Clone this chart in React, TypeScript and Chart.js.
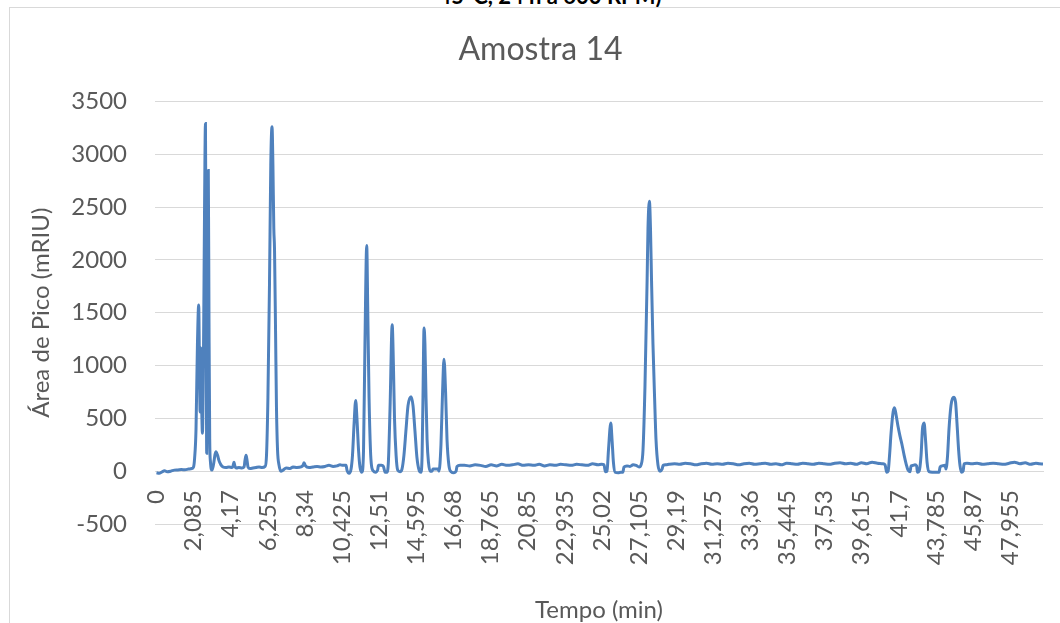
import React, { useEffect, useRef } from "react";
import { Chart, registerables } from "chart.js";

Chart.register(...registerables);

const tempo: number[] = [
  0, 0.15, 0.3, 0.45, 0.6, 0.8, 1.0, 1.2, 1.4, 1.6, 1.8, 1.98, 2.08, 2.14,
  2.22, 2.3, 2.37, 2.42, 2.45, 2.49, 2.53, 2.58, 2.64, 2.7, 2.75, 2.79, 2.82, 2.87, 2.91, 2.95, 2.99, 3.03,
  3.12, 3.2, 3.29, 3.34, 3.43, 3.51, 3.62, 3.74, 3.9, 4.07, 4.24, 4.3, 4.35, 4.41, 4.49, 4.63, 4.8,
  4.92, 4.97, 5.03, 5.08, 5.14, 5.25, 5.42, 5.59, 5.76, 5.93, 6.1,
  6.18, 6.26, 6.35, 6.42, 6.49, 6.54, 6.59, 6.63, 6.69, 6.74, 6.8, 6.88, 6.99,
  7.11, 7.28, 7.5, 7.67, 7.89, 8.12, 8.23, 8.29, 8.37, 8.57, 8.79, 9.02, 9.24, 9.47, 9.69, 9.92,
  10.14, 10.31, 10.48, 10.65, 10.7, 10.82, 10.93, 11.01, 11.1, 11.19, 11.26, 11.35, 11.43, 11.54,
  11.63, 11.71, 11.81, 11.87, 11.94, 12.02, 12.08, 12.19, 12.3, 12.42, 12.47, 12.64, 12.75, 12.84, 12.95,
  13.03, 13.12, 13.24, 13.31, 13.37, 13.46, 13.55, 13.68, 13.79, 13.9, 14.02, 14.13, 14.3, 14.41, 14.52,
  14.63, 14.75, 14.86, 14.92, 14.97, 15.03, 15.08, 15.14, 15.2, 15.28, 15.37, 15.48, 15.53, 15.7, 15.81,
  15.87, 15.98, 16.07, 16.15, 16.24, 16.32, 16.43, 16.55, 16.71, 16.83, 16.88, 17.05,
  17.3, 17.6, 17.9, 18.2, 18.5, 18.8, 19.1, 19.4, 19.7, 20.0, 20.3, 20.6, 20.9, 21.2, 21.5, 21.8,
  22.1, 22.4, 22.7, 23.0, 23.3, 23.6, 23.9, 24.2, 24.5, 24.8, 25.0, 25.14,
  25.22, 25.31, 25.39, 25.52, 25.59, 25.67, 25.76, 25.93, 26.09, 26.2, 26.26, 26.43, 26.6, 26.77,
  26.94, 27.11, 27.22, 27.33, 27.44, 27.56, 27.61, 27.69, 27.75, 27.81, 27.89, 27.98, 28.06, 28.17,
  28.29, 28.4, 28.46, 28.62, 28.79,
  29.1, 29.4, 29.7, 30.0, 30.3, 30.6, 30.9, 31.2, 31.5, 31.8, 32.1, 32.4, 32.7, 33.0, 33.3, 33.6,
  33.9, 34.2, 34.5, 34.8, 35.1, 35.4, 35.7, 36.0, 36.3, 36.6, 36.9, 37.2, 37.5, 37.8, 38.1, 38.4,
  38.7, 39.0, 39.3, 39.6, 39.9, 40.2, 40.5, 40.8, 40.93,
  41.02, 41.1, 41.18, 41.26, 41.38, 41.46, 41.55, 41.66, 41.77, 41.88, 42.0, 42.11, 42.22, 42.33,
  42.39, 42.5, 42.61, 42.7, 42.75, 42.84, 42.95, 43.03, 43.12, 43.2, 43.29, 43.4, 43.57, 43.79, 43.96,
  44.02, 44.13, 44.3, 44.35, 44.44, 44.52, 44.63, 44.72, 44.8, 44.89, 44.97, 45.06, 45.14, 45.22, 45.31,
  45.37, 45.53, 45.8, 46.1, 46.4, 46.7, 47.0, 47.3, 47.6, 47.9, 48.2, 48.5, 48.8, 49.1, 49.4, 49.6, 49.8,
];

const area: number[] = [
  -15, -20, -8, 5, -5, 0, 10, 12, 15, 14, 20, 25, 40, 120,
  400, 1200, 1573, 900, 560, 1165, 700, 360, 1100, 2500, 3290, 1800, 170, 1500, 2845, 1400, 300, 90,
  10, 60, 160, 185, 150, 100, 60, 40, 35, 40, 35, 50, 85, 45, 30, 35, 30,
  40, 100, 150, 110, 40, 25, 30, 35, 40, 35, 45,
  150, 700, 1800, 2900, 3260, 2900, 2300, 2100, 1300, 600, 200, 60, 0,
  10, 30, 25, 40, 35, 40, 55, 80, 50, 35, 40, 45, 40, 45, 55, 45,
  50, 60, 55, 55, 10, -20, 20, 150, 450, 670, 500, 200, 40, -10,
  200, 1200, 2135, 1500, 700, 200, 50, 0, -10, 10, 55, 55, 45, -10, -10,
  100, 600, 1385, 1000, 500, 150, 10, -5, 20, 150, 400, 620, 705, 620, 380,
  130, 10, -10, 150, 700, 1355, 1200, 700, 300, 80, 0, 0, 20, 20, 20,
  0, 250, 750, 1060, 750, 300, 50, -5, -15, 0, 45, 55,
  55, 50, 60, 55, 45, 60, 50, 65, 55, 60, 70, 55, 60, 55, 65, 50,
  60, 55, 65, 60, 55, 65, 60, 55, 70, 60, 65, 60,
  -5, 0, 200, 455, 300, 80, -10, -15, -10, -10, 40, 50, 45, 60,
  55, 40, 60, 200, 800, 1800, 2300, 2555, 2300, 1800, 1200, 700, 300, 60,
  0, 20, 55, 60, 65,
  70, 65, 75, 70, 60, 70, 75, 65, 70, 65, 75, 70, 60, 70, 75, 65,
  70, 75, 65, 70, 60, 75, 70, 65, 75, 70, 65, 75, 70, 65, 75, 80,
  70, 75, 65, 80, 70, 85, 75, 70, 60,
  -10, 0, 150, 350, 560, 600, 530, 420, 330, 250, 150, 70, 10, -5,
  50, 55, 60, 50, -10, 0, 150, 400, 455, 300, 80, -5, -10, -10, -10,
  40, 50, 55, 20, 150, 400, 620, 690, 700, 650, 450, 200, 50, -10, 0,
  70, 75, 70, 75, 65, 70, 75, 70, 65, 75, 85, 70, 80, 65, 75, 70, 68,
];

const xTickValues: number[] = [
  0, 2.085, 4.17, 6.255, 8.34, 10.425, 12.51, 14.595, 16.68, 18.765, 20.85, 22.935,
  25.02, 27.105, 29.19, 31.275, 33.36, 35.445, 37.53, 39.615, 41.7, 43.785, 45.87, 47.955,
];
const xTickLabels: string[] = [
  "0", "2,085", "4,17", "6,255", "8,34", "10,425", "12,51", "14,595", "16,68", "18,765", "20,85", "22,935",
  "25,02", "27,105", "29,19", "31,275", "33,36", "35,445", "37,53", "39,615", "41,7", "43,785", "45,87", "47,955",
];

const chartTitle = "Amostra 14";
const xTitle = "Tempo (min)";
const yTitle = "Área de Pico (mRIU)";
const FONT = "Lato, 'Open Sans', sans-serif";
const GREY = "#595959";

export default function App() {
  const ref = useRef<HTMLCanvasElement | null>(null);

  useEffect(() => {
    if (!ref.current) return;
    const points = tempo.map((t, i) => ({ x: t, y: area[i] }));
    const chart = new Chart(ref.current, {
      type: "line",
      data: {
        datasets: [
          {
            data: points,
            borderColor: "#4f81bd",
            borderWidth: 3,
            pointRadius: 0,
            fill: false,
            cubicInterpolationMode: "monotone",
          },
        ],
      },
      options: {
        responsive: false,
        animation: false,
        layout: { padding: { left: 38, right: 17, top: 0, bottom: 99 } },
        plugins: {
          legend: { display: false },
          tooltip: { enabled: false },
          title: {
            display: true,
            text: chartTitle,
            color: GREY,
            font: { family: FONT, size: 32, weight: "normal" },
            padding: { top: 30, bottom: 33 },
          },
        },
        scales: {
          x: {
            type: "linear",
            min: -0.084,
            max: 49.8,
            position: { y: 0 } as any,
            afterBuildTicks: (axis: any) => {
              axis.ticks = xTickValues.map((v) => ({ value: v }));
            },
            ticks: {
              autoSkip: false,
              maxRotation: 90,
              minRotation: 90,
              padding: 19,
              color: GREY,
              font: { family: FONT, size: 24 },
              callback: (_v: any, i: number) => xTickLabels[i],
            },
            grid: { display: false, drawTicks: false },
            border: { display: true, color: "#d9d9d9", width: 1 },
            title: {
              display: true,
              text: xTitle,
              color: GREY,
              font: { family: FONT, size: 24 },
              padding: { top: 12, bottom: 4 },
            },
          },
          y: {
            min: -500,
            max: 3500,
            afterFit: (s: any) => {
              s.width = 117;
            },
            ticks: {
              stepSize: 500,
              color: GREY,
              padding: 28,
              font: { family: FONT, size: 24 },
              callback: (v: any) => String(v),
            },
            grid: { color: "#d9d9d9", lineWidth: 1, drawTicks: false },
            border: { display: false },
            title: {
              display: true,
              text: yTitle,
              color: GREY,
              font: { family: FONT, size: 24 },
              padding: { top: -11, bottom: 0 },
            },
          },
        },
      } as any,
    });
    return () => chart.destroy();
  }, []);

  return (
    <div style={{ position: "absolute", left: 0, top: 0, width: 1060, height: 623, overflow: "hidden", background: "#fff" }}>
      <div
        style={{
          position: "absolute",
          left: 0,
          top: -15,
          width: 1100,
          textAlign: "center",
          fontFamily: FONT,
          fontWeight: "bold",
          fontSize: 22,
          lineHeight: "22px",
          color: "#000",
          whiteSpace: "nowrap",
        }}
      >
        45°C, 24 h a 600 RPM)
      </div>
      <div
        style={{
          position: "absolute",
          left: 9,
          top: 7,
          width: 1100,
          height: 700,
          borderLeft: "1px solid #d9d9d9",
          borderTop: "1px solid #d9d9d9",
        }}
      />
      <canvas ref={ref} width={1060} height={623} style={{ position: "absolute", left: 0, top: 0 }} />
    </div>
  );
}
